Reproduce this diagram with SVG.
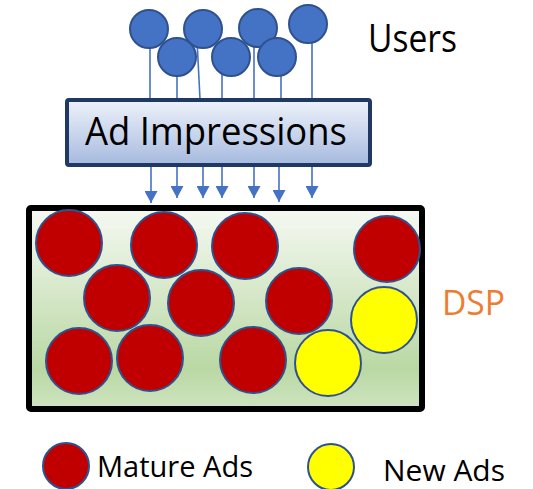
<svg xmlns="http://www.w3.org/2000/svg" width="533" height="489" viewBox="0 0 533 489">
  <defs>
    <linearGradient id="boxFill" x1="0" y1="0" x2="0" y2="1">
      <stop offset="0" stop-color="#eef2fa"/>
      <stop offset="1" stop-color="#a6badf"/>
    </linearGradient>
    <linearGradient id="dspFill" x1="0" y1="0" x2="0" y2="1">
      <stop offset="0" stop-color="#f6f9f3"/>
      <stop offset="0.8" stop-color="#b9d8a3"/>
      <stop offset="1" stop-color="#cfe4c0"/>
    </linearGradient>
    <marker id="arrow" viewBox="0 0 12 13" refX="12" refY="6.5" markerWidth="12" markerHeight="13" markerUnits="userSpaceOnUse" orient="auto">
      <path d="M0,0 L12,6.5 L0,13 Z" fill="#4472c4"/>
    </marker>
    <style>
      .user { fill: #4472c4; stroke: #2f528f; stroke-width: 2; }
      .mature { fill: #c00000; stroke: #2f528f; stroke-width: 2; }
      .new { fill: #ffff00; stroke: #2f528f; stroke-width: 2; }
      .wire { stroke: #4472c4; stroke-width: 1.6; fill: none; }
      .label { font-family: "Open Sans", "Noto Sans", sans-serif; fill: #000; }
    </style>
  </defs>

  <!-- connectors: users into the impressions box, impressions into the DSP -->
  <g id="connectors">
    <line class="wire" x1="150" y1="30" x2="150" y2="99"/>
    <line class="wire" x1="177" y1="57" x2="177" y2="99"/>
    <line class="wire" x1="197" y1="40" x2="200" y2="99"/>
    <line class="wire" x1="222" y1="60" x2="222" y2="99"/>
    <line class="wire" x1="254" y1="30" x2="254" y2="99"/>
    <line class="wire" x1="281" y1="57" x2="281" y2="99"/>
    <line class="wire" x1="312" y1="30" x2="312" y2="99"/>

    <line class="wire" x1="151" y1="166" x2="151" y2="203" marker-end="url(#arrow)"/>
    <line class="wire" x1="177" y1="166" x2="177" y2="198" marker-end="url(#arrow)"/>
    <line class="wire" x1="203" y1="166" x2="203" y2="198" marker-end="url(#arrow)"/>
    <line class="wire" x1="222" y1="166" x2="222" y2="198" marker-end="url(#arrow)"/>
    <line class="wire" x1="254" y1="166" x2="254" y2="198" marker-end="url(#arrow)"/>
    <line class="wire" x1="279" y1="166" x2="279" y2="202" marker-end="url(#arrow)"/>
    <line class="wire" x1="312" y1="166" x2="312" y2="198" marker-end="url(#arrow)"/>
  </g>

  <!-- users -->
  <g id="users">
    <circle class="user" cx="149" cy="29" r="19"/>
    <circle class="user" cx="203" cy="29" r="19"/>
    <circle class="user" cx="258" cy="28" r="19"/>
    <circle class="user" cx="308" cy="24" r="19"/>
    <circle class="user" cx="177" cy="57" r="19"/>
    <circle class="user" cx="231" cy="57" r="19"/>
    <circle class="user" cx="277" cy="57" r="19"/>
    <text class="label" x="368" y="52" font-size="38" textLength="89" lengthAdjust="spacingAndGlyphs">Users</text>
  </g>

  <!-- ad impressions box -->
  <g id="impressions">
    <rect x="67" y="100" width="303" height="65" rx="2" fill="url(#boxFill)" stroke="#1f3864" stroke-width="4"/>
    <text class="label" x="85" y="145" font-size="38" textLength="262" lengthAdjust="spacingAndGlyphs">Ad Impressions</text>
  </g>

  <!-- demand side platform holding the ads -->
  <g id="dsp">
    <rect x="29" y="208" width="393" height="201" rx="2" fill="url(#dspFill)" stroke="#000" stroke-width="6"/>
    <circle class="mature" cx="69" cy="243" r="33"/>
    <circle class="mature" cx="164" cy="245" r="33"/>
    <circle class="mature" cx="245" cy="246" r="33"/>
    <circle class="mature" cx="387" cy="249" r="33"/>
    <circle class="mature" cx="117" cy="298" r="33"/>
    <circle class="mature" cx="201" cy="303" r="33"/>
    <circle class="mature" cx="299" cy="301" r="33"/>
    <circle class="mature" cx="79" cy="361" r="33"/>
    <circle class="mature" cx="150" cy="358" r="33"/>
    <circle class="mature" cx="253" cy="360" r="33"/>
    <circle class="new" cx="328" cy="363" r="33"/>
    <circle class="new" cx="384" cy="320" r="33"/>
    <text x="442" y="315" font-family="Open Sans, Noto Sans, sans-serif" font-size="35" fill="#ed7d31" textLength="63" lengthAdjust="spacingAndGlyphs">DSP</text>
  </g>

  <!-- legend -->
  <g id="legend-mature">
    <circle class="mature" cx="66" cy="466" r="23"/>
    <text class="label" x="97" y="477" font-size="30" textLength="156" lengthAdjust="spacingAndGlyphs">Mature Ads</text>
  </g>
  <g id="legend-new">
    <circle class="new" cx="331" cy="467" r="23"/>
    <text class="label" x="383" y="481" font-size="29" textLength="122" lengthAdjust="spacingAndGlyphs">New Ads</text>
  </g>
</svg>
